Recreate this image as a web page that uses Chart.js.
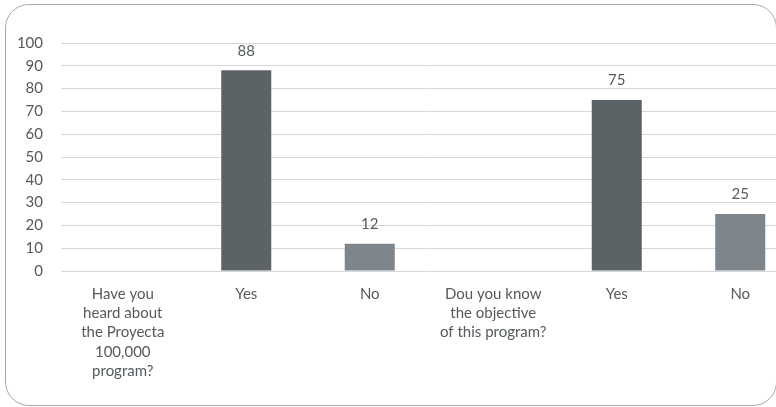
<!DOCTYPE html>
<html lang="en">
<head>
    <meta charset="UTF-8">
    <title>Proyecta 100,000 survey</title>
    <style>
* { margin: 0; padding: 0; box-sizing: border-box; }
body { width: 776px; height: 407px; overflow: hidden; background: #ffffff; }
.frame {
    position: absolute;
    left: 5px;
    top: 4px;
    width: 772px;
    height: 402px;
    border: 1px solid #a9abae;
    border-radius: 24px;
    overflow: hidden;
}
.frame canvas { position: absolute; left: -6px; top: -5px; }
    </style>
</head>
<body>
    <div class="frame">
        <canvas id="surveyChart" width="830" height="407"></canvas>
    </div>
    <script src="https://cdn.jsdelivr.net/npm/chart.js"></script>
    <script>
        // survey answers, in percent
        const categories = [
            ['Have you', 'heard about', 'the Proyecta', '100,000', 'program?'],
            'Yes',
            'No',
            ['Dou you know', 'the objective', 'of this program?'],
            'Yes',
            'No'
        ];
        const values = [null, 88, 12, null, 75, 25];
        const yTicks = [0, 10, 20, 30, 40, 50, 60, 70, 80, 90, 100];
        const barColors = ['#5c6366', '#5c6366', '#7f868b', '#5c6366', '#5c6366', '#7f868b'];

        const textColor = '#555a5e';

        // value labels above each bar
        const valueLabels = {
            id: 'valueLabels',
            afterDatasetsDraw(chart) {
                const ctx = chart.ctx;
                ctx.save();
                ctx.font = '15px Lato';
                ctx.fillStyle = textColor;
                ctx.textAlign = 'center';
                ctx.textBaseline = 'bottom';
                chart.getDatasetMeta(0).data.forEach((bar, i) => {
                    if (values[i] == null) return;
                    ctx.fillText(values[i], bar.x, bar.y - 12);
                });
                ctx.restore();
            }
        };

        new Chart(document.getElementById('surveyChart'), {
            type: 'bar',
            data: {
                labels: categories,
                datasets: [{
                    data: values,
                    backgroundColor: barColors,
                    borderWidth: 0,
                    categoryPercentage: 1,
                    barPercentage: 0.405
                }]
            },
            options: {
                responsive: false,
                animation: false,
                devicePixelRatio: 1,
                layout: { padding: { top: 43, right: 28, left: 0, bottom: 0 } },
                plugins: { legend: { display: false }, tooltip: { enabled: false } },
                scales: {
                    x: {
                        grid: { display: false, drawTicks: false },
                        border: { display: false },
                        ticks: {
                            color: textColor,
                            font: { family: 'Lato', size: 15, lineHeight: 1.29 },
                            padding: 13,
                            maxRotation: 0,
                            autoSkip: false
                        },
                        afterFit(scale) { scale.height = 136; }
                    },
                    y: {
                        min: 0,
                        max: 100,
                        afterBuildTicks(scale) { scale.ticks = yTicks.map(v => ({ value: v })); },
                        grid: { color: '#d6d7de', lineWidth: 1, drawTicks: false },
                        border: { display: false },
                        ticks: {
                            color: textColor,
                            font: { family: 'Lato', size: 15 },
                            padding: 18
                        },
                        afterFit(scale) { scale.width = 61; }
                    }
                }
            },
            plugins: [valueLabels]
        });
    </script>
</body>
</html>
